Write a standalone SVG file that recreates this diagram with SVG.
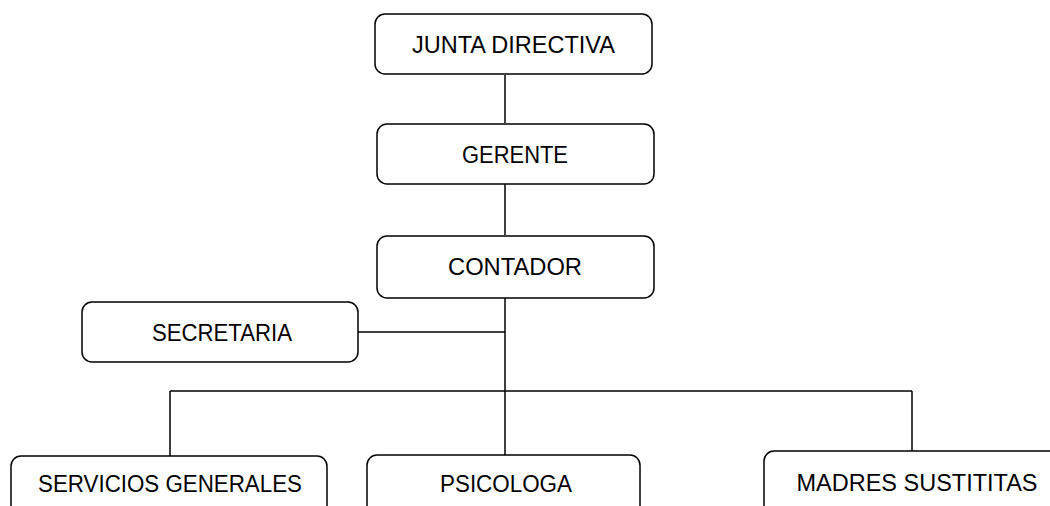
<svg xmlns="http://www.w3.org/2000/svg" width="1050" height="506" viewBox="0 0 1050 506">
<style>
.box{fill:#fff;stroke:#000;stroke-width:1.5}
.lbl{font-family:"Liberation Sans",Arial,sans-serif;font-size:23px;fill:#000;text-anchor:middle}
.ln{stroke:#000;stroke-width:1.5;fill:none}
</style>
<rect width="1050" height="506" fill="#fff"/>
<g id="connectors">
<line class="ln" x1="505" y1="75" x2="505" y2="123"/>
<line class="ln" x1="505" y1="184" x2="505" y2="235"/>
<line class="ln" x1="505" y1="298" x2="505" y2="455"/>
<line class="ln" x1="358" y1="332" x2="505" y2="332"/>
<line class="ln" x1="170" y1="391" x2="912" y2="391"/>
<line class="ln" x1="170" y1="391" x2="170" y2="456"/>
<line class="ln" x1="912" y1="391" x2="912" y2="452"/>
</g>
<g id="junta"><rect class="box" x="375" y="14" width="277" height="60" rx="10"/><text class="lbl" x="513.5" y="53" textLength="203" lengthAdjust="spacingAndGlyphs">JUNTA DIRECTIVA</text></g>
<g id="gerente"><rect class="box" x="377" y="124" width="277" height="60" rx="10"/><text class="lbl" x="515" y="163" textLength="106" lengthAdjust="spacingAndGlyphs">GERENTE</text></g>
<g id="contador"><rect class="box" x="377" y="236" width="277" height="62" rx="10"/><text class="lbl" x="515" y="275" textLength="134" lengthAdjust="spacingAndGlyphs">CONTADOR</text></g>
<g id="secretaria"><rect class="box" x="82" y="302" width="276" height="60" rx="10"/><text class="lbl" x="222" y="341" textLength="140" lengthAdjust="spacingAndGlyphs">SECRETARIA</text></g>
<g id="servicios"><rect class="box" x="11" y="456" width="316" height="70" rx="10"/><text class="lbl" x="170" y="492" textLength="264" lengthAdjust="spacingAndGlyphs">SERVICIOS GENERALES</text></g>
<g id="psicologa"><rect class="box" x="367" y="455" width="273" height="70" rx="10"/><text class="lbl" x="506" y="492" textLength="132" lengthAdjust="spacingAndGlyphs">PSICOLOGA</text></g>
<g id="madres"><rect class="box" x="764" y="451" width="300" height="70" rx="10"/><text class="lbl" x="917" y="491" textLength="241" lengthAdjust="spacingAndGlyphs">MADRES SUSTITITAS</text></g>
</svg>
